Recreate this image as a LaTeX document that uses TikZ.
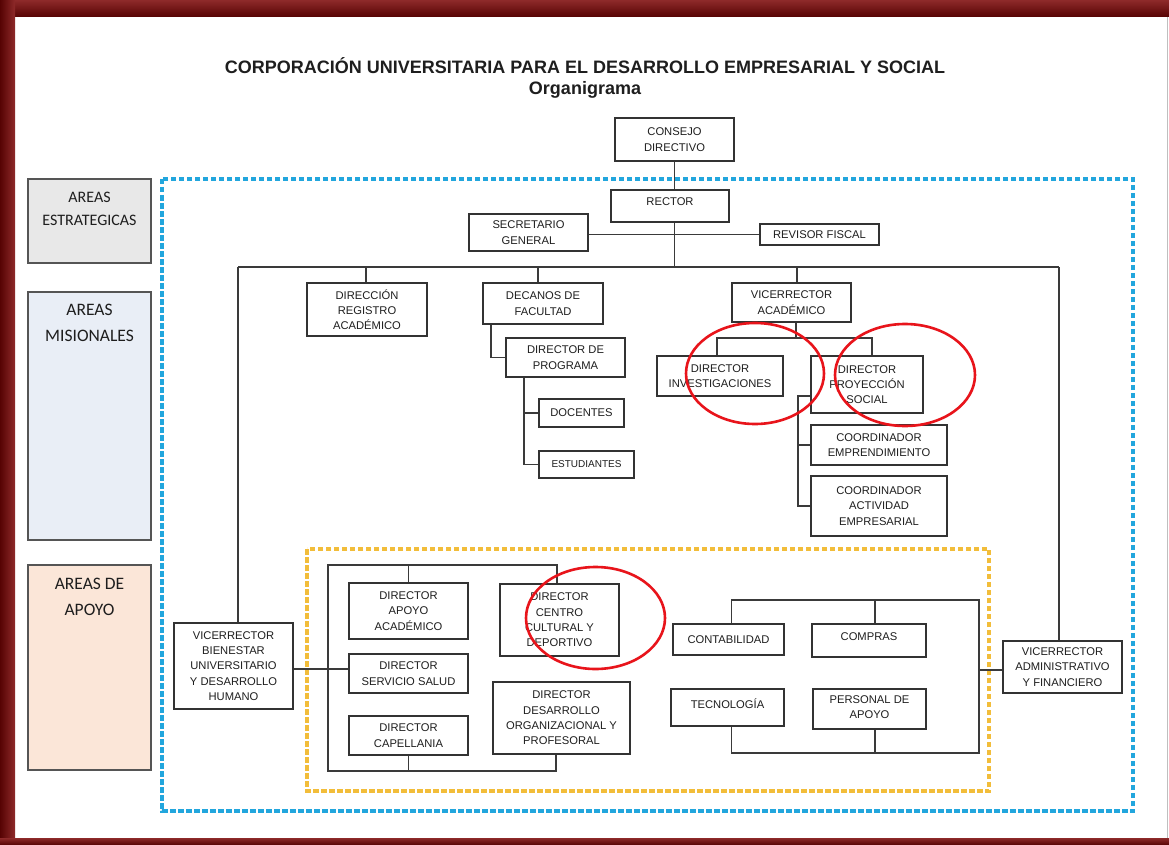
\documentclass[tikz,border=0pt]{standalone}
\usepackage{fontspec}
\setmainfont{Liberation Sans}
\newfontfamily\calib{Carlito}
\usetikzlibrary{calc}
\definecolor{boxline}{HTML}{333333}
\definecolor{connline}{HTML}{3A3A3A}
\definecolor{txtcol}{HTML}{1E1E1E}
\definecolor{arealine}{HTML}{555555}
\definecolor{dotblue}{HTML}{22A6DD}
\definecolor{dotyellow}{HTML}{F2BD3A}
\definecolor{ringred}{HTML}{E8141B}
\definecolor{fillE}{HTML}{E8E8E8}
\definecolor{fillM}{HTML}{E9EEF6}
\definecolor{fillA}{HTML}{FBE6D8}
\definecolor{frameA}{HTML}{8E2A2A}
\definecolor{frameB}{HTML}{560303}
\tikzset{
  orgbox/.style={draw=boxline, line width=1.1pt, fill=white, inner sep=0pt, rectangle},
  orgtext/.style={font=\fontsize{11.2}{15.3}\selectfont, align=center, inner sep=0pt, text=txtcol},
  conn/.style={draw=connline, line width=1.1pt},
  areabox/.style={draw=arealine, line width=1.2pt, inner sep=0pt, rectangle},
  areatext/.style={text=txtcol, anchor=base, inner sep=0pt},
  bluedot/.style={draw=dotblue, line width=3.6pt, dash pattern=on 5.5pt off 2.5pt},
  yellowdot/.style={draw=dotyellow, line width=3.6pt, dash pattern=on 5.5pt off 2.5pt},
  redring/.style={draw=ringred, line width=2.6pt},
  titletext/.style={font=\bfseries\fontsize{18}{20}\selectfont, anchor=base, inner sep=0pt, text=txtcol}
}
\newcommand\mkbox[7][0]{%
  \node[orgbox, minimum width={#5-#3}, minimum height={#6-#4}] (#2) at ({(#3+#5)/2},{(#4+#6)/2}) {};
  \node[orgtext, yshift=#1] (#2-t) at (#2.center) {#7};
}
\begin{document}
\begin{tikzpicture}[x=1pt,y=-1pt]
\useasboundingbox (0,0) rectangle (1169,845);
\fill[white] (0,0) rectangle (1169,845);
% frame
\shade[top color=frameA, bottom color=frameB] (0,0) rectangle (1169,17);
\shade[left color=frameB, right color=frameA] (0,0) rectangle (15,845);
\shade[top color=frameA, bottom color=frameB] (0,838) rectangle (1169,845);
\draw[black!25, line width=1.5pt] (1167.5,17) -- (1167.5,838);
% title
\node[titletext] (title) at (585,74) {CORPORACIÓN UNIVERSITARIA PARA EL DESARROLLO EMPRESARIAL Y SOCIAL};
\node[titletext] (subtitle) at (585,95) {Organigrama};
% area boxes
\node[areabox, fill=fillE, minimum width=123, minimum height=84] (aE) at (89.5,221) {};
\node[areabox, fill=fillM, minimum width=123, minimum height=248] (aM) at (89.5,416) {};
\node[areabox, fill=fillA, minimum width=123, minimum height=205] (aA) at (89.5,667.5) {};
\node[areatext, font=\calib\fontsize{16}{19}\selectfont] (aE1) at (89.5,203) {AREAS};
\node[areatext, font=\calib\fontsize{16}{19}\selectfont] (aE2) at (89.5,225) {ESTRATEGICAS};
\node[areatext, font=\calib\fontsize{17.5}{21}\selectfont] (aM1) at (89.5,315) {AREAS};
\node[areatext, font=\calib\fontsize{17.5}{21}\selectfont] (aM2) at (89.5,341) {MISIONALES};
\node[areatext, font=\calib\fontsize{17.5}{21}\selectfont] (aA1) at (89.5,589) {AREAS DE};
\node[areatext, font=\calib\fontsize{17.5}{21}\selectfont] (aA2) at (89.5,615) {APOYO};
% dotted frames
\draw[bluedot] (162,179) rectangle (1133,811);
\draw[yellowdot] (307,549) rectangle (989,791);
% boxes
\mkbox{CD}{615}{118}{734}{161}{CONSEJO\\DIRECTIVO}
\mkbox[4]{R}{611}{190}{729}{222}{RECTOR}
\mkbox{SG}{469}{214}{588}{251}{SECRETARIO\\GENERAL}
\mkbox{RF}{760}{224}{879}{245}{REVISOR FISCAL}
\mkbox{DRA}{307}{283}{427}{336}{DIRECCIÓN\\REGISTRO\\ACADÉMICO}
\mkbox{DF}{483}{283}{603}{324}{DECANOS DE\\FACULTAD}
\mkbox{DP}{506}{338}{625}{377}{DIRECTOR DE\\PROGRAMA}
\mkbox{DOC}{539}{399}{624}{427}{DOCENTES}
\mkbox{EST}{539}{451}{634}{478}{{\fontsize{10}{12}\selectfont ESTUDIANTES}}
\mkbox{VA}{732}{283}{851}{322}{VICERRECTOR\\ACADÉMICO}
\mkbox{DI}{657}{356}{783}{396}{DIRECTOR\\INVESTIGACIONES}
\mkbox{DPS}{811}{356}{923}{413}{DIRECTOR\\PROYECCIÓN\\SOCIAL}
\mkbox{CE}{811}{425}{947}{465}{COORDINADOR\\EMPRENDIMIENTO}
\mkbox{CAE}{811}{476}{947}{536}{COORDINADOR\\ACTIVIDAD\\EMPRESARIAL}
\mkbox{VB}{174}{623}{293}{709}{VICERRECTOR\\BIENESTAR\\UNIVERSITARIO\\Y DESARROLLO\\HUMANO}
\mkbox{DAA}{349}{583}{468}{639}{DIRECTOR\\APOYO\\ACADÉMICO}
\mkbox{DSS}{349}{654}{468}{693}{DIRECTOR\\SERVICIO SALUD}
\mkbox{DCap}{349}{716}{468}{755}{DIRECTOR\\CAPELLANIA}
\mkbox{DCCD}{500}{584}{619}{656}{DIRECTOR\\CENTRO\\CULTURAL Y\\DEPORTIVO}
\mkbox{DDOP}{493}{682}{630}{754}{DIRECTOR\\DESARROLLO\\ORGANIZACIONAL Y\\PROFESORAL}
\mkbox{CONT}{673}{624}{784}{655}{CONTABILIDAD}
\mkbox[4]{COMP}{812}{624}{926}{657}{COMPRAS}
\mkbox[4]{TEC}{671}{689}{784}{726}{TECNOLOGÍA}
\mkbox[2]{PA}{813}{689}{926}{729}{PERSONAL DE\\APOYO}
\mkbox{VAF}{1003}{641}{1122}{693}{VICERRECTOR\\ADMINISTRATIVO\\Y FINANCIERO}
% connectors
\coordinate (busL) at (238,267);
\coordinate (busR) at (1059,267);
\draw[conn] (CD.south) -- (CD.south |- R.north);
\draw[conn] (SG.east |- RF.west) -- (RF.west);
\draw[conn] (CD.south |- R.south) -- (CD.south |- busL);
\draw[conn] (busL) -- (busR);
\draw[conn] (busL) -- (busL |- VB.north);
\draw[conn] (busR) -- (busR |- VAF.north);
\draw[conn] ([xshift=-1pt]DRA.north) -- ([xshift=-1pt]DRA.north |- busL);
\draw[conn] ([xshift=-5pt]DF.north) -- ([xshift=-5pt]DF.north |- busL);
\draw[conn] ([xshift=5.5pt]VA.north) -- ([xshift=5.5pt]VA.north |- busL);
\draw[conn] ([xshift=-52pt]DF.south) |- (DP.west);
\draw[conn] ([xshift=-41.5pt]DP.south) |- (DOC.west);
\draw[conn] ([xshift=-41.5pt]DP.south) |- (EST.west);
\coordinate (vaj) at (796,338);
\draw[conn] (vaj |- VA.south) -- (vaj);
\draw[conn] (vaj) -| ([xshift=-3pt]DI.north);
\draw[conn] (vaj) -| ([xshift=5pt]DPS.north);
\coordinate (dpsb) at (798,396);
\draw[conn] (DPS.west |- dpsb) -- (dpsb) |- (CAE.west);
\draw[conn] (dpsb) |- (CE.west);
\draw[conn] ([yshift=-3pt]VB.east) -- ([yshift=-3pt]VB.east -| DSS.west);
\coordinate (lbT) at (328,565);
\coordinate (lbB) at (328,771);
\draw[conn] ([xshift=-2.5pt]DCCD.north) |- (lbT) -- (lbB) -| ([xshift=-5.5pt]DDOP.south);
\draw[conn] (DAA.north) -- (DAA.north |- lbT);
\draw[conn] (DCap.south) -- (DCap.south |- lbB);
\coordinate (rbT) at (979,600);
\coordinate (rbB) at (979,753);
\draw[conn] ([xshift=3pt]CONT.north) |- (rbT) -- (rbB) -| ([xshift=4pt]TEC.south);
\draw[conn] ([xshift=6pt]COMP.north) -- ([xshift=6pt]COMP.north |- rbT);
\draw[conn] ([xshift=5.5pt]PA.south) -- ([xshift=5.5pt]PA.south |- rbB);
\draw[conn] ([yshift=-3pt]VAF.west) -- ([yshift=-3pt]VAF.west -| rbT);
% red annotation rings
\draw[redring] (755,373.5) ellipse [x radius=69pt, y radius=50.5pt];
\draw[redring] (905,375) ellipse [x radius=70pt, y radius=51pt];
\draw[redring] (595.5,618) ellipse [x radius=69.5pt, y radius=51pt];
\end{tikzpicture}
\end{document}
